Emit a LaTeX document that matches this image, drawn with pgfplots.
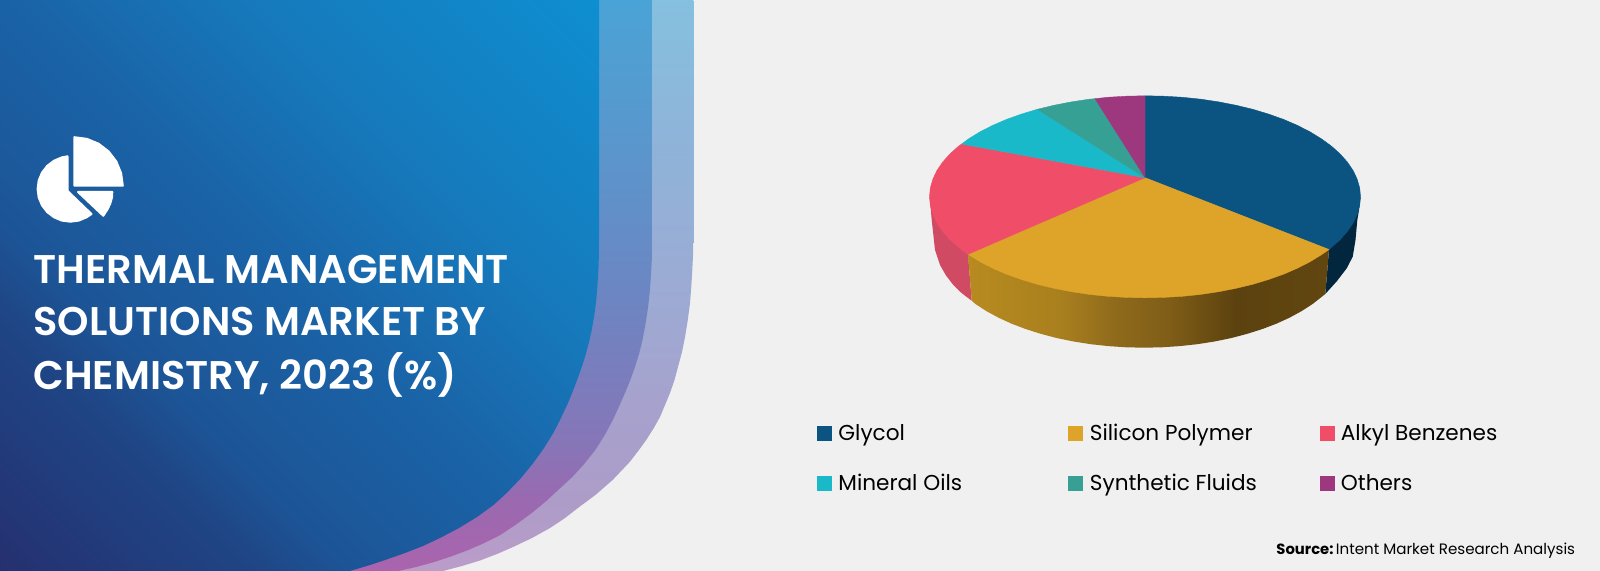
\documentclass[border=0pt]{standalone}
\usepackage{pgfplots}
\pgfplotsset{compat=1.18}
\usepackage{fontspec}
\setmainfont{Poppins}
\newfontfamily\ttl{Poppins}[UprightFont={* SemiBold}]
\definecolor{bg}{HTML}{F0F0F0}
\definecolor{cGly}{HTML}{0B5482}
\definecolor{cSil}{HTML}{DEA329}
\definecolor{cAlk}{HTML}{F04E68}
\definecolor{cMin}{HTML}{1AB9C9}
\definecolor{cSyn}{HTML}{36A094}
\definecolor{cOth}{HTML}{9D387F}
\definecolor{sGly}{HTML}{03263F}
\definecolor{sAlk}{HTML}{CF4A62}
\definecolor{p1}{HTML}{253070}\definecolor{p2}{HTML}{1F4585}\definecolor{p3}{HTML}{1C5597}
\definecolor{p4}{HTML}{1A63A7}\definecolor{p5}{HTML}{1679BB}\definecolor{p6}{HTML}{0E8FD1}
\pgfdeclareverticalshading{panel}{100bp}{
 color(0bp)=(p1);color(14.6bp)=(p1);color(30bp)=(p2);color(36bp)=(p3);color(50bp)=(p4);color(64bp)=(p5);color(85.4bp)=(p6);color(100bp)=(p6)}
\definecolor{k1}{RGB}{184,138,32}\definecolor{k2}{RGB}{169,128,30}\definecolor{k3}{RGB}{143,106,28}
\definecolor{k4}{RGB}{127,93,23}\definecolor{k5}{RGB}{92,66,15}\definecolor{k6}{RGB}{97,70,16}
\pgfdeclarehorizontalshading{goldside}{100bp}{
 color(0bp)=(k1);color(25bp)=(k1);color(37.7bp)=(k2);color(45.4bp)=(k3);color(53bp)=(k4);color(62bp)=(k5);color(75bp)=(k6);color(100bp)=(k6)}
\definecolor{g1}{HTML}{AA64AE}\definecolor{g2}{HTML}{9A69B0}\definecolor{g3}{HTML}{8676B8}
\definecolor{g4}{HTML}{6D85C2}\definecolor{g5}{HTML}{5A96CC}\definecolor{g6}{HTML}{4AA3D6}
\definecolor{h1}{HTML}{BB9CC9}\definecolor{h2}{HTML}{AD9CC8}\definecolor{h3}{HTML}{A99FCB}
\definecolor{h4}{HTML}{9DAAD3}\definecolor{h5}{HTML}{8FB3D8}\definecolor{h6}{HTML}{85C0DF}
\pgfdeclareverticalshading{bandtwo}{100bp}{
 color(0bp)=(g1);color(25bp)=(g1);color(31.2bp)=(g2);color(36.2bp)=(g3);color(48.7bp)=(g4);color(61.9bp)=(g5);color(75bp)=(g6);color(100bp)=(g6)}
\pgfdeclareverticalshading{bandthree}{100bp}{
 color(0bp)=(h1);color(25bp)=(h1);color(31.2bp)=(h2);color(36.2bp)=(h3);color(48.7bp)=(h4);color(61.9bp)=(h5);color(75bp)=(h6);color(100bp)=(h6)}
\begin{document}
\begin{tikzpicture}
\begin{axis}[
  scale only axis, width=800pt, height=285.5pt,
  xmin=0, xmax=1600, ymin=0, ymax=571, y dir=reverse, hide axis,
  clip=true]
% background
\addplot[fill=bg, draw=none] coordinates {(0,0)(1600,0)(1600,571)(0,571)} -- cycle;
% outer bands and main panel
\addplot[shading=bandthree, draw=none] coordinates {(0,0)(693.3,0)(693.3,240)(693,255)(692.2,272)(691.2,288)(690,303)(687.8,320)(685,337)(682,352)(678.5,365)(674.5,380)(670,393)(665,405)(660,417)(653.5,428.5)(646.2,440)(638.2,451)(629.7,462)(612.6,480)(595.4,495)(579.2,507)(565,518)(550,528)(532,538)(513,547)(497,554)(480,560.5)(462,566)(443,571)(0,571)} -- cycle;
\addplot[shading=bandtwo, draw=none] coordinates {(0,0)(652.3,0)(652.3,240)(652,256)(651.1,273)(649.9,290)(648.1,307)(645.7,323)(642.5,340)(639.3,353)(635,367)(630.3,380)(625,393)(618.8,407)(612.8,420)(604.8,435)(595.3,450)(583.3,465)(572.3,477)(560.3,488)(546.3,501)(531.8,513)(516.8,524)(500.3,535)(484.3,543)(468.3,550)(452.3,556)(434.3,562)(416.3,567)(398.3,571)(0,571)} -- cycle;
\addplot[shading=panel, shading angle=-45, draw=none] coordinates {(0,0)(599,0)(599,240)(598.9,255)(598.4,270)(597.5,285)(596,303)(594.2,316)(591.7,330)(588.8,343)(585,357)(580,372)(574.5,387)(568,403)(560,420)(553.3,433)(544,448)(533.3,463)(521,478)(506.7,493)(493.5,505)(477,517)(459,528)(440,538)(423,546)(405,553)(388,559)(370,565)(350,571)(0,571)} -- cycle;
% icon
\addplot[fill=white, draw=white, line width=1pt, line join=round] coordinates {(74.3,185.7)(122.8,185.7)(121.1,173.1)(116.3,161.45)(108.6,151.4)(98.55,143.7)(86.85,138.85)(74.3,137.2)} -- cycle;
\addplot[fill=white, draw=white, line width=1pt, line join=round] coordinates {(67.5,156.3)(61.8,157.4)(54,160.7)(47.2,165.9)(42,172.65)(38.7,180.5)(37.6,189)(38.7,197.5)(42,205.35)(47.2,212.1)(54,217.3)(61.8,220.6)(70.3,221.7)(78.8,220.6)(86.65,217.3)(91.5,214)(67.5,190.9)} -- cycle;
\addplot[fill=white, draw=white, line width=1pt, line join=round] coordinates {(78,192)(112.3,192)(112,197.3)(110.3,203.5)(107.6,209.25)(104.8,213.5)(103.3,215.8)} -- cycle;
% title
\node[anchor=base west, inner sep=0pt, text=white, font=\ttl\fontsize{20}{20}\selectfont] at (axis cs:33,283.2) {THERMAL MANAGEMENT};
\node[anchor=base west, inner sep=0pt, text=white, font=\ttl\fontsize{20}{20}\selectfont] at (axis cs:33,335.8) {SOLUTIONS MARKET BY};
\node[anchor=base west, inner sep=0pt, text=white, font=\ttl\fontsize{20}{20}\selectfont] at (axis cs:33,389.2) {CHEMISTRY, 2023 (\%)};
% pie sides (shares: Glycol 34, Silicon Polymer 31, Alkyl Benzenes 17, Mineral Oils 8, Synthetic Fluids 5, Others 5)
\addplot[fill=sGly, draw=none] coordinates {(1360.5,196.8)(1329,249.5)(1325.3,294)(1337,281)(1346.7,268.3)(1352.7,256.7)(1355.5,240)(1357.3,220)(1359,210)(1360,200)} -- cycle;
\addplot[fill=sAlk, draw=none] coordinates {(929.5,196.8)(968,254.3)(971.7,300.7)(961.5,293)(953.3,285)(946,275.5)(940,265)(935,250)(931.7,220)(930,200)} -- cycle;
\addplot[shading=goldside, draw=none] coordinates {(968,254.3)(1329,249.5)(1325.3,294)(1312.75,303.9)(1301.8,311)(1289.7,317.6)(1276.4,323.7)(1262.2,329.1)(1247,333.9)(1231.1,338.1)(1214.5,341.5)(1197.3,344.2)(1179.8,346.1)(1162,347.3)(1144,347.7)(1126,347.3)(1108.2,346.1)(1090.7,344.2)(1073.5,341.5)(1056.9,338.1)(1041,333.9)(1025.8,329.1)(1011.6,323.7)(998.3,317.6)(986.2,311)(975.25,303.9)(971.7,300.7)} -- cycle;
% pie top
\addplot[fill=cGly, draw=cGly, line width=.2pt] coordinates {(1145,177.7)(1145,95.8)(1163.8,96.2)(1182.4,97.3)(1200.8,99.2)(1218.7,101.9)(1236.1,105.3)(1252.75,109.3)(1268.6,114.1)(1283.5,119.4)(1297.4,125.4)(1310.1,131.9)(1321.5,138.9)(1331.6,146.3)(1340.3,154.1)(1347.5,162.3)(1353.2,170.7)(1357.2,179.3)(1359.7,188)(1360.5,196.8)(1359.7,205.6)(1357.2,214.3)(1353.2,222.9)(1347.5,231.3)(1340.3,239.5)(1331.6,247.3)(1329,249.5)} -- cycle;
\addplot[fill=cSil, draw=cSil, line width=.2pt] coordinates {(1145,177.7)(1329,249.5)(1321.5,254.7)(1310.1,261.7)(1297.4,268.2)(1283.5,274.2)(1268.6,279.5)(1252.75,284.3)(1236.1,288.3)(1218.7,291.7)(1200.8,294.4)(1182.4,296.3)(1163.8,297.4)(1145,297.8)(1126.2,297.4)(1107.6,296.3)(1089.2,294.4)(1071.3,291.7)(1053.9,288.3)(1037.25,284.3)(1021.4,279.5)(1006.5,274.2)(992.6,268.2)(979.9,261.7)(968,254.3)} -- cycle;
\addplot[fill=cAlk, draw=cAlk, line width=.2pt] coordinates {(1145,177.7)(968,254.3)(958.4,247.3)(949.7,239.5)(942.5,231.3)(936.8,222.9)(932.8,214.3)(930.3,205.6)(929.5,196.8)(930.3,188)(932.8,179.3)(936.8,170.7)(942.5,162.3)(949.7,154.1)(958.4,146.3)(961.7,144)} -- cycle;
\addplot[fill=cMin, draw=cMin, line width=.2pt] coordinates {(1145,177.7)(961.7,144)(968.5,138.9)(979.9,131.9)(992.6,125.4)(1006.5,119.4)(1021.4,114.1)(1037.25,109.3)} -- cycle;
\addplot[fill=cSyn, draw=cSyn, line width=.2pt] coordinates {(1145,177.7)(1037.25,109.3)(1053.9,105.3)(1071.3,101.9)(1089.2,99.2)(1095,98.7)} -- cycle;
\addplot[fill=cOth, draw=cOth, line width=.2pt] coordinates {(1145,177.7)(1095,98.7)(1107.6,97.3)(1126.2,96.2)(1145,95.8)} -- cycle;
% legend
\pgfplotsset{lgm/.style={only marks, mark=square*, mark size=3.6pt, color=#1, mark options={solid, draw=#1, fill=#1, line width=.3pt}}}
\addplot[lgm=cGly] coordinates {(824.2,433.3)};
\addplot[lgm=cSil] coordinates {(1075.5,433.3)};
\addplot[lgm=cAlk] coordinates {(1327,433.3)};
\addplot[lgm=cMin] coordinates {(824.2,483.5)};
\addplot[lgm=cSyn] coordinates {(1075.5,483.5)};
\addplot[lgm=cOth] coordinates {(1327,483.5)};
\tikzset{lg/.style={anchor=base west, inner sep=0pt, text=black, font=\fontsize{10.8}{12}\selectfont}}
\node[lg] at (axis cs:838,440) {Glycol};
\node[lg] at (axis cs:1089.5,440) {Silicon Polymer};
\node[lg] at (axis cs:1340.5,440) {Alkyl Benzenes};
\node[lg] at (axis cs:838,490) {Mineral Oils};
\node[lg] at (axis cs:1089.5,490) {Synthetic Fluids};
\node[lg] at (axis cs:1340.5,490) {Others};
\node[anchor=base west, inner sep=0pt, text=black, font=\fontsize{7.4}{9}\selectfont] at (axis cs:1276,554) {\textbf{Source:}\hspace{1.2pt}{\fontsize{7.55}{9}\selectfont Intent Market Research Analysis}};
\end{axis}
\end{tikzpicture}
\end{document}
